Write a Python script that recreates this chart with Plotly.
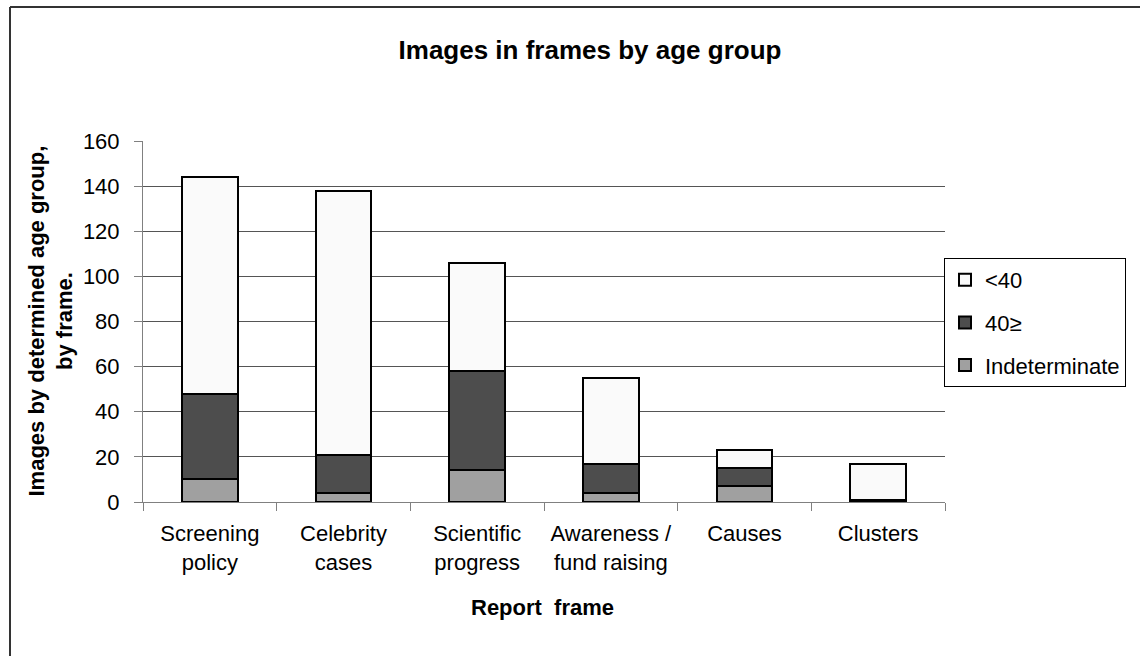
import plotly.graph_objects as go

# Report frames (categories) and stacked counts per age group
frames = ["Screening<br>policy", "Celebrity<br>cases", "Scientific<br>progress",
          "Awareness /<br>fund raising", "Causes", "Clusters"]
indeterminate = [10, 4, 14, 4, 7, 0]
age_40_plus = [38, 17, 44, 13, 8, 1]
under_40 = [96, 117, 48, 38, 8, 16]

y_ticks = [0, 20, 40, 60, 80, 100, 120, 140, 160]

W, H = 1140, 656
L, R, T, B = 143, 945, 141, 502  # plot area in pixels

FONT = "Liberation Sans, Arial, sans-serif"

# (name, values, fill, legend rank)
series = [
    ("Indeterminate", indeterminate, "#a0a0a0", 3),
    ("40≥", age_40_plus, "#4d4d4d", 2),
    ("<40", under_40, "#fafafa", 1),
]

fig = go.Figure()
for name, vals, color, rank in series:
    fig.add_trace(go.Bar(
        x=frames, y=vals, name=name, legendgroup=name, legendrank=rank,
        marker=dict(color=color, line=dict(color="#000000", width=2)),
    ))

fig.update_layout(
    width=W, height=H,
    margin=dict(l=L, r=W - R, t=T, b=H - B, pad=0),
    paper_bgcolor="white", plot_bgcolor="white",
    barmode="stack", bargap=0.585,
    font=dict(family=FONT, size=22, color="#000000"),
    title=dict(text="<b>Images in frames by age group</b>",
               x=590 / W, xref="container", xanchor="center",
               y=1 - 50 / H, yref="container", yanchor="middle",
               font=dict(size=26, family=FONT, color="#000000")),
    legend=dict(
        x=(944 - L) / (R - L), xanchor="left",
        y=(B - 258) / (B - T), yanchor="top",
        traceorder="grouped", tracegroupgap=11,
        bordercolor="#000000", borderwidth=1, bgcolor="white",
        font=dict(size=22, family=FONT, color="#000000"),
    ),
    showlegend=True,
)

fig.update_xaxes(
    showgrid=False, showline=True, linecolor="#808080", linewidth=1,
    ticks="outside", tickson="boundaries", ticklen=8, tickcolor="#808080",
    ticklabelstandoff=12,
    tickfont=dict(size=22, family=FONT, color="#000000"),
)
fig.update_yaxes(
    range=[0, 160], tickvals=y_ticks,
    showgrid=True, gridcolor="#555555", gridwidth=1,
    showline=True, linecolor="#808080", linewidth=1,
    ticks="outside", ticklen=8, tickcolor="#808080",
    ticklabelstandoff=10,
    tickfont=dict(size=22, family=FONT, color="#000000"),
    zeroline=False,
)

# Axis titles
fig.add_annotation(
    text="<b>Images by determined age group,<br>by frame.</b>",
    xref="paper", yref="paper", x=(50 - L) / (R - L), y=0.5,
    xanchor="center", yanchor="middle", textangle=-90, showarrow=False,
    font=dict(size=22, family=FONT, color="#000000"),
)
fig.add_annotation(
    text="<b>Report  frame</b>",
    xref="paper", yref="paper", x=(542 - L) / (R - L), y=(B - 607) / (B - T),
    xanchor="center", yanchor="middle", showarrow=False,
    font=dict(size=22, family=FONT, color="#000000"),
)

# Outer chart frame: top and left edges (the rest runs off the page)
px_x = lambda p: (p - L) / (R - L)
px_y = lambda p: (B - p) / (B - T)
for x0, y0, x1, y1 in [(10, 7, 1200, 7), (10, 7, 10, 720)]:
    fig.add_shape(type="line", xref="paper", yref="paper",
                  x0=px_x(x0), y0=px_y(y0), x1=px_x(x1), y1=px_y(y1),
                  line=dict(color="#333333", width=2), layer="below")

fig.write_html("out.html")
